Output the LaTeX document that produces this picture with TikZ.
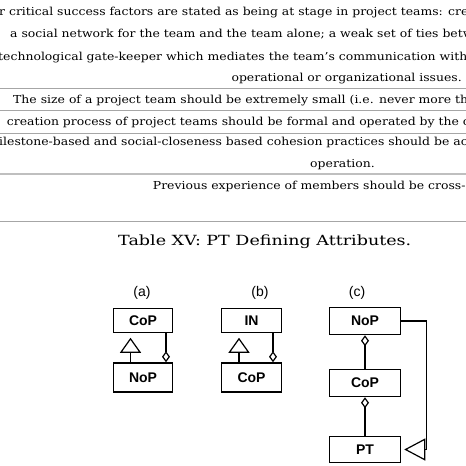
\documentclass[tikz,border=0pt]{standalone}
\usepackage{fontspec}
\setmainfont{DejaVu Serif}
\newfontfamily\bodyfont{DejaVu Serif}[FakeStretch=1.13]
\newfontfamily\capfont{DejaVu Serif}[FakeStretch=1.25]
\newfontfamily\diagfont{Liberation Sans}
\usetikzlibrary{arrows.meta}
\begin{document}
\begin{tikzpicture}[x=1pt,y=-1pt,
  body/.style={anchor=base west, inner sep=0pt, font=\bodyfont\fontsize{11}{13}\selectfont},
  rule/.style={draw=gray!70, line width=0.8pt},
  cls/.style={draw, line width=1.5pt, minimum width=59pt, minimum height=24pt, inner sep=0pt, font=\diagfont\bfseries\fontsize{14}{16}\selectfont},
  lbl/.style={font=\diagfont\fontsize{14}{16}\selectfont, inner sep=0pt},
  gen/.style={line width=1.2pt, -{Triangle[open, length=15pt, width=21pt]}},
  agg/.style={line width=1.2pt, {Diamond[open, length=11pt, width=8pt]}-}
]
\useasboundingbox (0,0) rectangle (466,466);
\fill[white] (0,0) rectangle (466,466);
\begin{scope}
\clip (0,0) rectangle (466,466);
\node[body] (t1) at (-1,15) {r critical success factors are stated as being at stage in project teams: creation};
\node[body] (t2) at (10,37.3) {a social network for the team and the team alone; a weak set of ties between};
\node[body] (t3) at (-2,60) {technological gate-keeper which mediates the team’s communication with};
\node[body, anchor=base east] (t4) at (462,81.5) {operational or organizational issues.};
\node[body] (t5) at (13,103.3) {The size of a project team should be extremely small (i.e. never more than};
\node[body] (t6) at (6.7,125) {creation process of project teams should be formal and operated by the c};
\node[body] (t7) at (-1,145) {ilestone-based and social-closeness based cohesion practices should be ac};
\node[body, anchor=base] (t8) at (342.5,167.3) {operation.};
\node[body] (t9) at (152.7,189.5) {Previous experience of members should be cross-};
\draw[rule] (0,88) -- (466,88);
\draw[rule] (0,110) -- (466,110);
\draw[rule] (0,133) -- (466,133);
\draw[rule, draw=gray!50, line width=1.3pt] (0,174) -- (466,174);
\draw[rule] (0,221) -- (466,221);
\end{scope}
\node[anchor=base west, inner sep=0pt, font=\capfont\fontsize{14}{16}\selectfont] (cap) at (118,245) {Table XV: PT Defining Attributes.};
% diagram
\node[lbl] (la) at (142,292.5) {(a)};
\node[lbl] (lb) at (260,292.5) {(b)};
\node[lbl] (lc) at (357,292.5) {(c)};
\node[cls] (copa) at (143,320.5) {CoP};
\node[cls, minimum height=29pt] (nopa) at (143,377.5) {NoP};
\node[cls, minimum width=60pt] (inb) at (251.5,320.5) {IN};
\node[cls, minimum width=60pt, minimum height=29pt] (copb) at (251.5,377.5) {CoP};
\node[cls, minimum width=71pt, minimum height=27pt] (nopc) at (365,321) {NoP};
\node[cls, minimum width=71pt, minimum height=27pt] (copc) at (365,383) {CoP};
\node[cls, minimum width=71pt, minimum height=26pt] (ptc) at (365,449.5) {PT};
\draw[gen, shorten >=4.5pt] ([xshift=-12.5pt]nopa.north) -- ([xshift=-12.5pt]copa.south);
\draw[agg] ([xshift=23pt]nopa.north) -- ([xshift=23pt]copa.south);
\draw[gen, shorten >=4.5pt] ([xshift=-12.5pt]copb.north) -- ([xshift=-12.5pt]inb.south);
\draw[agg] ([xshift=21.5pt]copb.north) -- ([xshift=21.5pt]inb.south);
\draw[agg] (nopc.south) -- (copc.north);
\draw[agg] (copc.south) -- (ptc.north);
\draw[line width=1.2pt, -{Triangle[open, length=21pt, width=22pt]}, shorten >=3pt] (nopc.east) -- ++(25,0) |- (ptc.east);
\end{tikzpicture}
\end{document}
